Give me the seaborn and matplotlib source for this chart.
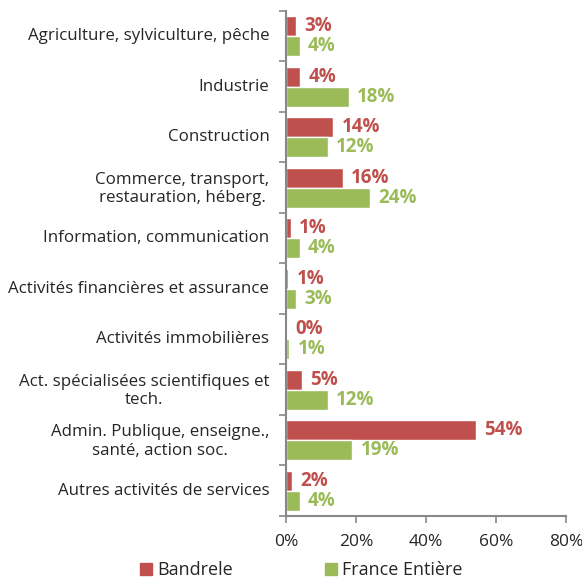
import pandas as pd
import matplotlib.pyplot as plt
import matplotlib.transforms as mtransforms
import seaborn as sns
from matplotlib.lines import Line2D

sectors = [
    "Agriculture, sylviculture, pêche",
    "Industrie",
    "Construction",
    "Commerce, transport,\nrestauration, héberg.",
    "Information, communication",
    "Activités financières et assurance",
    "Activités immobilières",
    "Act. spécialisées scientifiques et\ntech.",
    "Admin. Publique, enseigne.,\nsanté, action soc.",
    "Autres activités de services",
]
bandrele = [2.9, 4.1, 13.5, 16.2, 1.3, 0.7, 0.3, 4.6, 54.3, 1.6]
france = [3.9, 18.0, 11.9, 23.9, 3.9, 2.9, 0.9, 11.9, 18.9, 3.9]
series = ["Bandrele", "France Entière"]
colors = {"Bandrele": "#C0504D", "France Entière": "#9BBB59"}
xticks = [0, 20, 40, 60, 80]

df = pd.DataFrame({
    "Secteur": sectors * 2,
    "Part": bandrele + france,
    "Zone": [series[0]] * len(sectors) + [series[1]] * len(sectors),
})

sns.set_style("white")
plt.rcParams["font.family"] = ["Open Sans", "DejaVu Sans"]

fig = plt.figure(figsize=(5.82, 5.78), dpi=100)
ax = fig.add_axes([0.4914, 0.1073, 0.4811, 0.8737])

sns.barplot(data=df, y="Secteur", x="Part", hue="Zone", order=sectors,
            hue_order=series, palette=colors, width=0.8, orient="h",
            saturation=1, legend=False, ax=ax)

for cont, name in zip(ax.containers, series):
    vals = bandrele if name == series[0] else france
    ax.bar_label(cont, labels=[f"{round(v)}%" for v in vals], padding=6,
                 color=colors[name], fontweight="bold", fontsize=13.5)

ax.set_xlim(0, 80)
ax.set_ylim(len(sectors) - 0.5, -0.5)
ax.set_xticks(xticks)
ax.set_xticklabels([f"{t}%" for t in xticks], fontsize=12.5)
ax.set_yticks([i - 0.5 for i in range(len(sectors) + 1)])
ax.set_yticklabels([])
ax.set_yticks(range(len(sectors)), minor=True)
ax.set_yticklabels(sectors, minor=True, fontsize=12.15, multialignment="center")
ax.tick_params(axis="y", which="minor", length=0, pad=12)
ax.tick_params(axis="y", which="major", direction="out", length=5, width=1.2, color="#888888", left=True)
ax.tick_params(axis="x", direction="out", length=5, width=1.2, color="#888888", bottom=True, pad=8)
ax.set_xlabel("")
ax.set_ylabel("")
for side in ["top", "right"]:
    ax.spines[side].set_visible(False)
for side in ["left", "bottom"]:
    ax.spines[side].set_color("#888888")
    ax.spines[side].set_linewidth(1.5)

# nudge category labels up slightly
shift = mtransforms.ScaledTranslation(0, 2 / 100, fig.dpi_scale_trans)
for lbl in ax.get_yticklabels(minor=True):
    lbl.set_transform(lbl.get_transform() + shift)

handles = [Line2D([], [], marker="s", linestyle="", markersize=8,
                  markerfacecolor=colors[s], markeredgecolor=colors[s], label=s) for s in series]
fig.legend(handles=handles, loc="lower center", ncol=2, frameon=False,
           bbox_to_anchor=(0.518, -0.03), fontsize=13, columnspacing=5.1,
           handletextpad=0.25, handlelength=0.7)

fig.savefig("out.png", dpi=100)
